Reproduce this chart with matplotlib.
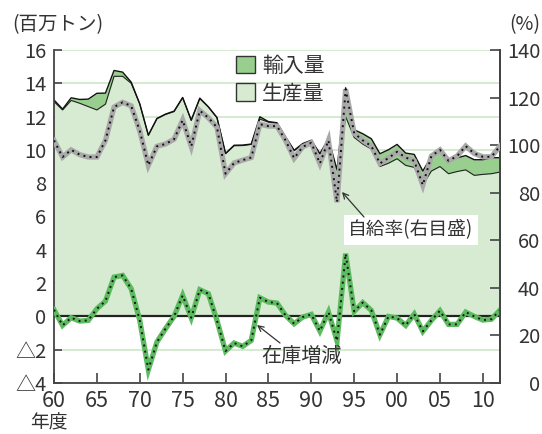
import matplotlib
matplotlib.use('Agg')
import matplotlib.pyplot as plt
from matplotlib.patches import Patch

# ---------------- data ----------------
years = list(range(1960, 2013))
production = [12.9, 12.4, 12.97, 12.8, 12.6, 12.4, 12.75, 14.42, 14.42, 14.0,
              12.75, 10.87, 11.87, 12.13, 12.3, 13.13, 11.77, 13.08, 12.57, 11.93,
              9.77, 10.25, 10.26, 10.33, 11.85, 11.67, 11.6, 10.75, 9.95, 10.35,
              10.55, 9.75, 10.63, 7.85, 12.0, 10.75, 10.35, 10.05, 9.0, 9.2,
              9.47, 9.07, 8.95, 7.9, 8.73, 9.0, 8.57, 8.7, 8.8, 8.47,
              8.53, 8.57, 8.67]
imports = [0.1, 0.05, 0.16, 0.23, 0.45, 1.0, 0.66, 0.35, 0.25, 0.07,
           0.02, 0.02, 0.02, 0.02, 0.03, 0.02, 0.02, 0.03, 0.02, 0.02,
           0.02, 0.03, 0.03, 0.02, 0.14, 0.03, 0.03, 0.03, 0.03, 0.03,
           0.03, 0.03, 0.03, 0.95, 1.73, 0.46, 0.62, 0.62, 0.77, 0.81,
           0.86, 0.74, 0.78, 0.83, 0.88, 1.0, 0.84, 0.82, 0.86, 0.94,
           0.88, 0.96, 0.86]
self_sufficiency = [102, 95, 98, 96, 95, 95, 102, 116, 118, 116.5,
                    106, 91.5, 99.5, 100.5, 102.5, 110.5, 99.5, 114.5, 111.5, 107.5,
                    88, 92.5, 93.7, 94.8, 108.8, 108, 108, 102, 94.5, 99.3,
                    101, 92.3, 102, 76, 123.5, 105, 102, 99.6, 92.3, 94.6,
                    97.2, 94.8, 93.4, 83.2, 95.4, 98, 93.4, 95.4, 99.6, 96.5,
                    95.1, 95.1, 99.6]
stock_change = [0.4, -0.54, -0.08, -0.28, -0.24, 0.46, 0.92, 2.36, 2.46, 1.66,
                -0.24, -3.2, -1.54, -0.74, 0.0, 1.26, -0.08, 1.6, 1.36, -0.24,
                -2.08, -1.6, -1.8, -1.44, 1.12, 0.86, 0.8, 0.06, -0.44, -0.04,
                0.12, -0.88, 0.26, -1.48, 3.77, 0.3, 0.83, 0.36, -1.1, 0.0,
                -0.1, -0.54, 0.14, -0.9, -0.24, 0.34, -0.48, -0.48, 0.26, 0.0,
                -0.22, -0.17, 0.38]

left_ticks = [-4, -2, 0, 2, 4, 6, 8, 10, 12, 14, 16]
left_labels = ['△4', '△2', '0', '2', '4', '6', '8', '10', '12', '14', '16']
right_ticks = [0, 20, 40, 60, 80, 100, 120, 140]
right_labels = ['0', '20', '40', '60', '80', '100', '120', '140']
x_ticks = [1960, 1965, 1970, 1975, 1980, 1985, 1990, 1995, 2000, 2005, 2010]
x_labels = ['60', '65', '70', '75', '80', '85', '90', '95', '00', '05', '10']

total = [p + i for p, i in zip(production, imports)]

# ---------------- style ----------------
NUM = ['Noto Sans CJK JP', 'DejaVu Sans']
JP = ['Noto Sans CJK JP', 'DejaVu Sans']
TXT = '#333333'
SPINE = '#444444'
C_PROD = '#d6ebd2'
C_IMP = '#98cf8e'
C_GRID = '#d2e8ce'
C_STOCK = '#5cbb5f'
C_RATE = '#a9a9a9'

fig = plt.figure(figsize=(5.42, 4.34), dpi=100)
ax = fig.add_axes([54 / 542, 1 - 383 / 434, 446 / 542, 333 / 434])
ax.set_xlim(1960, 2012)
ax.set_ylim(-4, 16)

ax.set_yticks(left_ticks)
ax.set_yticklabels(left_labels, family=NUM, fontsize=14.5, color=TXT)
ax.set_xticks(x_ticks)
ax.set_xticklabels(x_labels, family=NUM, fontsize=15.5, color=TXT)
ax.yaxis.grid(True, color=C_GRID, lw=1.3, zorder=0)
ax.set_axisbelow(True)

ax.fill_between(years, 0, production, color=C_PROD, lw=0, zorder=1)
ax.fill_between(years, production, total, color=C_IMP, lw=0, zorder=1)
ax.plot(years, production, color='#222222', lw=0.8, zorder=2)
ax.plot(years, total, color='#111111', lw=1.0, zorder=2)
ax.axhline(0, color='#222222', lw=1.6, zorder=3)

ax.plot(years, stock_change, color=C_STOCK, lw=3.8, zorder=4,
        solid_joinstyle='miter')
ax.plot(years, stock_change, color='#111111', lw=1.4, ls=(0, (1, 2.2)), zorder=5)

for s in ['top']:
    ax.spines[s].set_visible(False)
for s in ['left', 'bottom', 'right']:
    ax.spines[s].set_color(SPINE)
    ax.spines[s].set_linewidth(1.3)
ax.tick_params(axis='y', direction='in', length=6, width=1.2, color=SPINE, pad=5.5)
ax.tick_params(axis='x', direction='in', length=7, width=1.2, color=SPINE, pad=5)

ax2 = ax.twinx()
ax2.set_ylim(0, 140)
ax2.set_yticks(right_ticks)
ax2.set_yticklabels(right_labels, family=NUM, fontsize=14.5, color=TXT)
for lbl in ax2.get_yticklabels():
    lbl.set_horizontalalignment('right')
ax2.tick_params(axis='y', direction='in', length=7, width=1.2, color=SPINE, pad=29)
ax2.spines['top'].set_visible(False)
ax2.spines['left'].set_visible(False)
ax2.spines['bottom'].set_visible(False)
ax2.spines['right'].set_color(SPINE)
ax2.spines['right'].set_linewidth(1.3)

ax2.plot(years, self_sufficiency, color=C_RATE, lw=3.8, zorder=4,
         solid_joinstyle='miter')
ax2.plot(years, self_sufficiency, color='#111111', lw=1.4, ls=(0, (1, 2.2)), zorder=5)

# legend
handles = [Patch(facecolor=C_IMP, edgecolor='#333333', lw=1.0),
           Patch(facecolor=C_PROD, edgecolor='#333333', lw=1.0)]
leg = ax2.legend(handles, ['輸入量', '生産量'], loc='upper left',
                 bbox_to_anchor=((236 - 54) / 446, (383 - 55) / 333),
                 frameon=False, prop={'family': JP, 'size': 15},
                 handlelength=0.9, handleheight=0.9, handletextpad=0.35,
                 labelspacing=0.25, borderaxespad=0, borderpad=0)
for t in leg.get_texts():
    t.set_color(TXT)

# annotations
def px2data_right(px, py):
    xv = 1960 + (px - 54) / 446 * 52
    yv = (383 - py) / 333 * 140
    return xv, yv

tx, ty = px2data_right(411, 230)
ax2.text(tx, ty, '自給率(右目盛)', family=JP, fontsize=13.5, color=TXT,
         ha='center', va='center', zorder=6,
         bbox=dict(facecolor='white', edgecolor='none', pad=3))
ax2.annotate('', xy=px2data_right(342, 192), xytext=px2data_right(364, 217),
             arrowprops=dict(arrowstyle='->', color='#333333', lw=0.9,
                             shrinkA=0, shrinkB=0, mutation_scale=10), zorder=6)

sx, sy = px2data_right(301, 356)
ax2.text(sx, sy, '在庫増減', family=JP, fontsize=14.5, color=TXT,
         ha='center', va='center', zorder=6)
ax2.annotate('', xy=px2data_right(257, 325), xytext=px2data_right(280, 343),
             arrowprops=dict(arrowstyle='->', color='#333333', lw=0.9,
                             shrinkA=0, shrinkB=0, mutation_scale=10), zorder=6)

fig.text(12 / 542, 1 - 25 / 434, '(百万トン)', family=JP, fontsize=14,
         color=TXT, ha='left', va='center')
fig.text(540 / 542, 1 - 25 / 434, '(%)', family=JP, fontsize=14,
         color=TXT, ha='right', va='center')
fig.text(30 / 542, 1 - 423 / 434, '年度', family=JP, fontsize=13.5,
         color=TXT, ha='left', va='center')

fig.savefig('out.png', dpi=100)
